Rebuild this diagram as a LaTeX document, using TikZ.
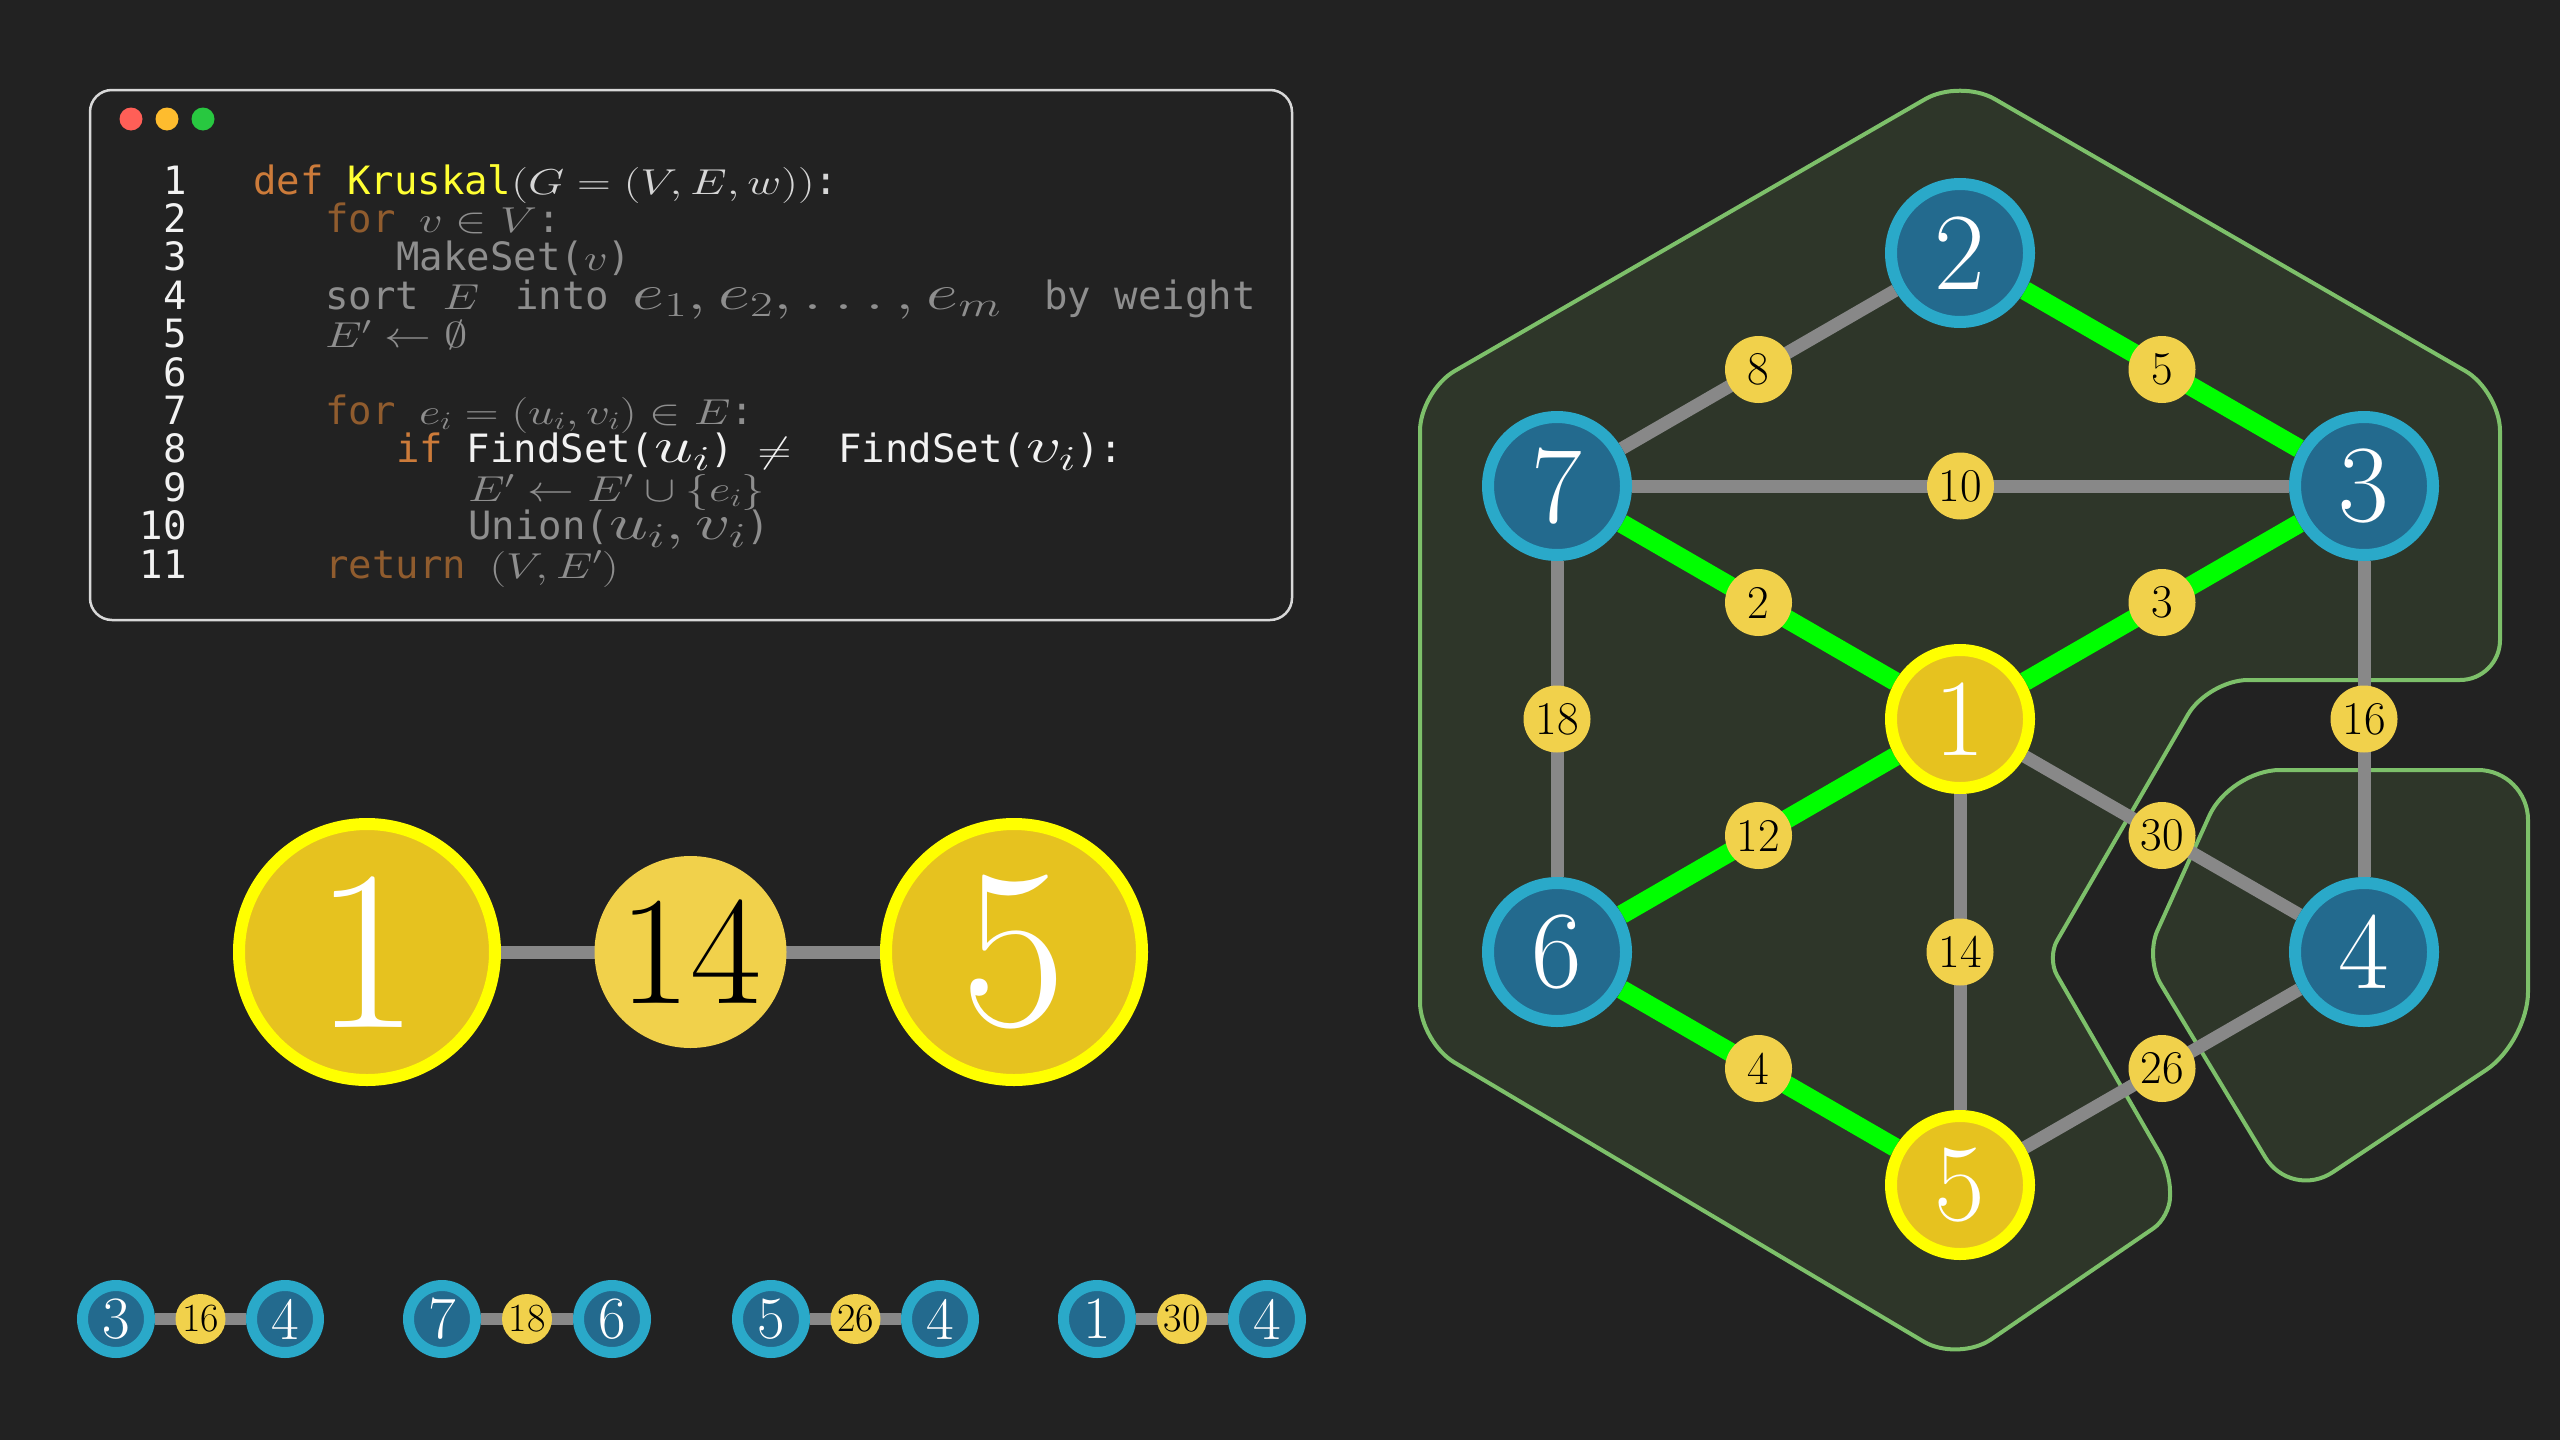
\RequirePackage{fix-cm}
\documentclass[tikz,border=0pt]{standalone}
\usepackage{fontspec}
\usepackage{graphicx}
\newfontfamily\codefont{DejaVu Sans Mono}
\usetikzlibrary{calc}
\definecolor{bgc}{HTML}{222222}
\definecolor{boxc}{HTML}{D8D8D8}
\definecolor{nblue}{HTML}{236A8E}
\definecolor{nring}{HTML}{2AA9C9}
\definecolor{nyel}{HTML}{E6C21F}
\definecolor{yring}{HTML}{FFFF00}
\definecolor{labc}{HTML}{F1D14B}
\definecolor{gedgec}{HTML}{888888}
\definecolor{gredc}{HTML}{00FF00}
\definecolor{hullc}{HTML}{7DC06A}
\definecolor{hullfill}{HTML}{2E3629}
\definecolor{kor}{HTML}{CC7B3A}
\definecolor{kyel}{HTML}{FFFF33}
\definecolor{lt}{HTML}{D6D6D6}
\definecolor{wt}{HTML}{F2F2F2}
\definecolor{dimg}{HTML}{8E8E8E}
\definecolor{dor}{HTML}{905C2E}
\definecolor{tlred}{HTML}{FF5F57}
\definecolor{tlyel}{HTML}{FEBC2E}
\definecolor{tlgrn}{HTML}{28C840}
\newcommand\mth[1]{{\fontsize{36}{36}\selectfont\scalebox{1.3}[1]{$#1$}}}
\newcommand\mthb[1]{{\fontsize{50}{50}\selectfont\scalebox{1.4}[1]{$#1$}}}
\pgfdeclarelayer{bglayer}
\pgfdeclarelayer{hulllayer}
\pgfdeclarelayer{edgelayer}
\pgfsetlayers{bglayer,hulllayer,edgelayer,main}
\begin{document}
\begin{tikzpicture}[x=1pt,y=-1pt,
  bnode/.style={circle, inner sep=0pt, minimum size=138pt, line width=12pt, fill=nblue, draw=nring, text=white, font=\fontsize{110}{110}\selectfont},
  ynode/.style={bnode, fill=nyel, draw=yring},
  elab/.style={circle, inner sep=0pt, minimum size=67pt, fill=labc, text=black, font=\fontsize{47}{47}\selectfont},
  sbnode/.style={bnode, minimum size=67pt, line width=11pt, font=\fontsize{60}{60}\selectfont},
  slab/.style={elab, minimum size=50pt, font=\fontsize{40}{40}\selectfont},
  bigy/.style={ynode, minimum size=256pt, line width=12pt, font=\fontsize{228}{228}\selectfont},
  biglab/.style={elab, minimum size=192pt, font=\fontsize{155}{155}\selectfont},
  grayedge/.style={draw=gedgec, line width=13pt},
  greenedge/.style={draw=gredc, line width=19pt},
  smalledge/.style={draw=gedgec, line width=12pt},
  hullshape/.style={draw=hullc, line width=4pt, fill=hullfill, line join=round},
  cl/.style={anchor=base west, inner sep=0pt, font={\fontsize{39}{39}\selectfont\codefont}},
  lnum/.style={anchor=base east, inner sep=0pt, text=wt, font={\fontsize{39}{39}\selectfont\codefont}}
]
\useasboundingbox (0,0) rectangle (2560,1440);
\begin{pgfonlayer}{bglayer}
\fill[bgc] (0,0) rectangle (2560,1440);
\end{pgfonlayer}

% code window
\draw[boxc, line width=2.5pt, rounded corners=22pt] (90,90) rectangle (1292,620);
\fill[tlred] (131,119) circle (11.5pt);
\fill[tlyel] (167,119) circle (11.5pt);
\fill[tlgrn] (203,119) circle (11.5pt);

\foreach \i in {1,...,11} {
  \node[lnum] (ln\i) at (187,{194+38.4*(\i-1)}) {\i};
}
\node[cl, text=wt] (c1) at (253,194) {\textcolor{kor}{def} \textcolor{kyel}{Kruskal}\textcolor{lt}{\mth{(G=(V,E,w))}:}};
\node[cl, text=dimg] (c2) at (325,232.4) {\textcolor{dor}{for} \mth{v\in V}:};
\node[cl, text=dimg] (c3) at (396,270.8) {MakeSet(\mth{v})};
\node[cl, text=dimg] (c4) at (325,309.2) {sort \mth{E}\hspace{36pt}into \mthb{e_1,e_2,\ldots,e_m}\hspace{43pt}by weight};
\node[cl, text=dimg] (c5) at (325,347.6) {\mth{E'\leftarrow\emptyset}};
\node[cl, text=dimg] (c7) at (325,424.4) {\textcolor{dor}{for} \mth{e_i=(u_i,v_i)\in E}:};
\node[cl, text=wt] (c8) at (396,462.8) {\textcolor{kor}{if} FindSet(\mthb{u_i})\ \mth{\neq}\ \ FindSet(\mthb{v_i}):};
\node[cl, text=dimg] (c9) at (468,501.2) {\mth{E'\leftarrow E'\cup\{e_i\}}};
\node[cl, text=dimg] (c10) at (468,539.6) {Union(\mthb{u_i,v_i})};
\node[cl, text=dimg] (c11) at (325,578) {\textcolor{dor}{return} \mth{(V,E')}};

% hulls
\begin{pgfonlayer}{hulllayer}
\path[hullshape] (1420,700) [rounded corners=40pt] -- (1420,391) -- (1960,79) -- (2500,391) -- (2500,680) -- (2208,680) [rounded corners=20pt] -- (2047,958) -- (2170,1171) -- (2170,1217) [rounded corners=40pt] -- (1958,1362) -- (1420,1042) -- cycle;
\path[hullshape] (2528,900) [rounded corners=50pt] -- (2528,770) -- (2230,770) [rounded corners=30pt] -- (2145,958) [rounded corners=50pt] -- (2291,1200) -- (2528,1042) -- cycle;
\end{pgfonlayer}

% main graph nodes
\node[bnode] (n2) at (1960,253) {2};
\node[bnode] (n7) at (1557,486) {7};
\node[bnode] (n3) at (2364,486) {3};
\node[ynode] (n1) at (1960,719) {1};
\node[bnode] (n6) at (1557,952) {6};
\node[bnode] (n4) at (2364,952) {4};
\node[ynode] (n5) at (1960,1185) {5};

\begin{pgfonlayer}{edgelayer}
\draw[grayedge] (n7) -- (n2);
\draw[greenedge] (n2) -- (n3);
\draw[grayedge] (n7) -- (n3);
\draw[greenedge] (n7) -- (n1);
\draw[greenedge] (n1) -- (n3);
\draw[grayedge] (n7) -- (n6);
\draw[grayedge] (n3) -- (n4);
\draw[greenedge] (n6) -- (n1);
\draw[grayedge] (n1) -- (n4);
\draw[grayedge] (n1) -- (n5);
\draw[greenedge] (n6) -- (n5);
\draw[grayedge] (n5) -- (n4);
\end{pgfonlayer}

\node[elab] (l8) at ($(n7)!0.5!(n2)$) {8};
\node[elab] (l5) at ($(n2)!0.5!(n3)$) {5};
\node[elab] (l10) at ($(n7)!0.5!(n3)$) {10};
\node[elab] (l2) at ($(n7)!0.5!(n1)$) {2};
\node[elab] (l3) at ($(n1)!0.5!(n3)$) {3};
\node[elab] (l18) at ($(n7)!0.5!(n6)$) {18};
\node[elab] (l16) at ($(n3)!0.5!(n4)$) {16};
\node[elab] (l12) at ($(n6)!0.5!(n1)$) {12};
\node[elab] (l30) at ($(n1)!0.5!(n4)$) {30};
\node[elab] (l14) at ($(n1)!0.5!(n5)$) {14};
\node[elab] (l4) at ($(n6)!0.5!(n5)$) {4};
\node[elab] (l26) at ($(n5)!0.5!(n4)$) {26};

% middle big edge
\node[bigy] (m1) at (367,952) {1};
\node[bigy] (m5) at (1014,952) {5};
\begin{pgfonlayer}{edgelayer}
\draw[grayedge] (m1) -- (m5);
\end{pgfonlayer}
\node[biglab] (m14) at ($(m1)!0.5!(m5)$) {14};

% bottom row
\node[sbnode] (a3) at (116,1319) {3};
\node[sbnode] (a4) at (285,1319) {4};
\node[sbnode] (b7) at (442,1319) {7};
\node[sbnode] (b6) at (612,1319) {6};
\node[sbnode] (c5) at (771,1319) {5};
\node[sbnode] (c4) at (940,1319) {4};
\node[sbnode] (d1) at (1097,1319) {1};
\node[sbnode] (d4) at (1267,1319) {4};
\begin{pgfonlayer}{edgelayer}
\draw[smalledge] (a3) -- (a4);
\draw[smalledge] (b7) -- (b6);
\draw[smalledge] (c5) -- (c4);
\draw[smalledge] (d1) -- (d4);
\end{pgfonlayer}
\node[slab] (a16) at ($(a3)!0.5!(a4)$) {16};
\node[slab] (b18) at ($(b7)!0.5!(b6)$) {18};
\node[slab] (c26) at ($(c5)!0.5!(c4)$) {26};
\node[slab] (d30) at ($(d1)!0.5!(d4)$) {30};
\end{tikzpicture}
\end{document}
